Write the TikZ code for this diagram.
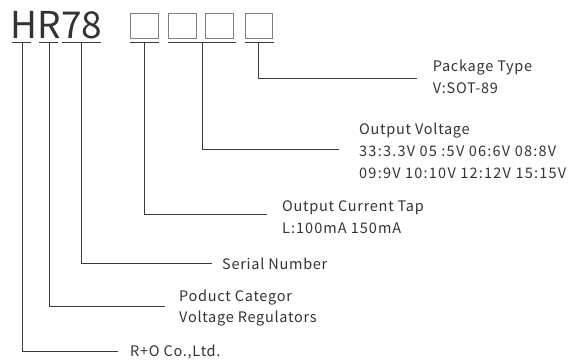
\documentclass[tikz,border=0pt]{standalone}
\usepackage{fontspec}
\setmainfont{Noto Sans CJK SC}
\newfontfamily\lblfont[LetterSpace=5]{Noto Sans CJK SC}
\newfontfamily\numfont[LetterSpace=8.5]{Noto Sans CJK SC}
\newfontfamily\curfont[LetterSpace=7]{Noto Sans CJK SC}
\definecolor{txt}{HTML}{333333}
\definecolor{ln}{HTML}{3A3A3A}
\definecolor{bx}{HTML}{808080}
\begin{document}
\begin{tikzpicture}[x=1pt,y=-1pt,
  lbl/.style={anchor=base west,inner sep=0pt,text=txt,font=\lblfont\fontsize{14.5}{17}\selectfont},
  numlbl/.style={lbl,font=\numfont\fontsize{14.5}{17}\selectfont},
  curlbl/.style={lbl,font=\curfont\fontsize{14.5}{17}\selectfont},
  big/.style={anchor=base west,inner sep=0pt,text=txt,font=\fontsize{37}{40}\selectfont},
  conn/.style={draw=ln,line width=0.9pt},
  uline/.style={draw=ln,line width=0.9pt},
  codebox/.style={draw=bx,line width=0.9pt}]
\useasboundingbox (0,0) rectangle (570,363);
% title
\node[big] (title) at (10.5,38.3) {HR78};
\draw[codebox] (130,13) rectangle (158,38);
\draw[codebox] (168,13) rectangle (196,38);
\draw[codebox] (205,13) rectangle (233,38);
\draw[codebox] (245,13) rectangle (272,38);
% underlines
\draw[uline] (12,42.7) -- (31,42.7);
\draw[uline] (39,42.7) -- (58,42.7);
\draw[uline] (62,42.7) -- (101,42.7);
\draw[uline] (130,42.7) -- (159,42.7);
\draw[uline] (168,42.7) -- (236,42.7);
\draw[uline] (245,42.7) -- (274,42.7);
% connector start points
\coordinate (sH) at (22,42.7);
\coordinate (sR) at (49,42.7);
\coordinate (s78) at (81,42.7);
\coordinate (sC) at (144,42.7);
\coordinate (sV) at (202,42.7);
\coordinate (sP) at (258,42.7);
% connector end points
\coordinate (eP) at (416.7,78.3);
\coordinate (eV) at (339,149);
\coordinate (eC) at (266.7,214);
\coordinate (e78) at (212,263.3);
\coordinate (eR) at (165,306.7);
\coordinate (eH) at (118,351);
\draw[conn] (sP) |- (eP);
\draw[conn] (sV) |- (eV);
\draw[conn] (sC) |- (eC);
\draw[conn] (s78) |- (e78);
\draw[conn] (sR) |- (eR);
\draw[conn] (sH) |- (eH);
% labels
\node[lbl] (pk1) at (432.7,71.7) {Package Type};
\node[lbl] (pk2) at (432.7,93.3) {V:SOT-89};
\node[lbl] (ov1) at (359,135) {Output Voltage};
\node[numlbl] (ov2) at (359,156.7) {33:3.3V 05 :5V 06:6V 08:8V};
\node[numlbl] (ov3) at (359,178.3) {09:9V 10:10V 12:12V 15:15V};
\node[lbl] (oc1) at (282,211.7) {Output Current Tap};
\node[curlbl] (oc2) at (282,233.3) {L:100mA 150mA};
\node[lbl] (sn) at (222,269.3) {Serial Number};
\node[lbl] (pc1) at (179,301.7) {Poduct Categor};
\node[lbl] (pc2) at (179,322.7) {Voltage Regulators};
\node[lbl] (ro) at (130,356.7) {R+O Co.,Ltd.};
\end{tikzpicture}
\end{document}
